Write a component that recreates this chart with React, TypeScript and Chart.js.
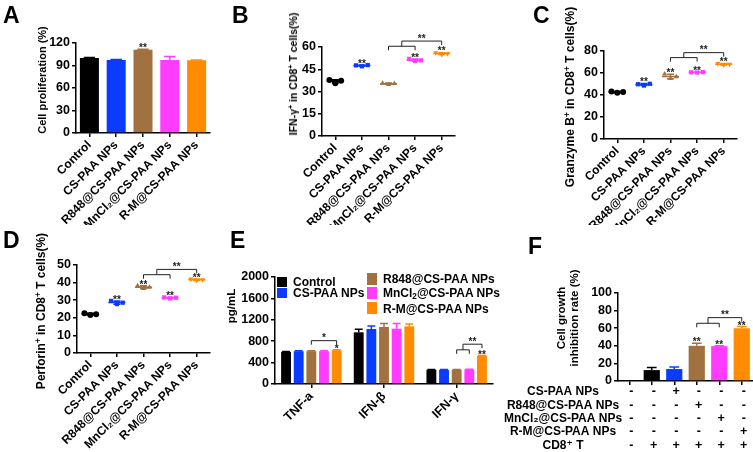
import React, { useEffect, useRef } from 'react';
import { Chart, registerables } from 'chart.js';

Chart.register(...registerables);

const FONT = '"Liberation Sans", Arial, "DejaVu Sans", sans-serif';
Chart.defaults.font.family = FONT;
Chart.defaults.font.weight = 'bold';
Chart.defaults.color = '#000';

// ---------------- shared ----------------
const groups = ['Control', 'CS-PAA NPs', 'R848@CS-PAA NPs', 'MnCl₂@CS-PAA NPs', 'R-M@CS-PAA NPs'];
const groupColors = ['#000000', '#0b3bff', '#a1713f', '#ff3cff', '#ff8c00'];
const pointShapes = ['circle', 'rect', 'triangle', 'rect', 'triangle'];
const pointRotations = [0, 0, 0, 0, 180];
const jitter = [-0.22, 0, 0.22];

// ---------------- A: cell proliferation ----------------
const prolifMean = [100, 97.5, 111, 97.5, 97];
const prolifSD = [0.8, 0.5, 0.8, 4.5, 0.5];
const prolifStars = ['', '', '**', '', ''];

// ---------------- B: IFN-γ+ ----------------
const ifngReps = [
  [37.8, 35.6, 37.2],
  [47.6, 47.0, 47.8],
  [35.6, 34.8, 35.4],
  [52.0, 50.6, 51.0],
  [56.2, 55.0, 55.6],
];
const ifngStars = ['', '**', '', '**', '**'];
const ifngBrackets = [
  { from: 2, to: 3, y: 60.5, label: '' },
  { from: 2.5, to: 4, y: 64, label: '**', base: 60.5 },
];

// ---------------- C: Granzyme B+ ----------------
const gzmbReps = [
  [43.2, 42.0, 42.8],
  [49.8, 48.6, 50.2],
  [59.0, 55.0, 56.6],
  [60.6, 60.4, 60.8],
  [68.6, 67.2, 68.0],
];
const gzmbStars = ['', '**', '**', '**', '**'];
const gzmbBrackets = [
  { from: 2, to: 3, y: 74, label: '' },
  { from: 2.5, to: 4, y: 78.5, label: '**', base: 74 },
];

// ---------------- D: Perforin+ ----------------
const prfReps = [
  [22.6, 21.6, 22.0],
  [29.6, 27.8, 28.6],
  [38.2, 36.6, 37.4],
  [31.6, 31.0, 31.4],
  [42.0, 41.2, 41.6],
];
const prfStars = ['', '**', '**', '**', '**'];
const prfBrackets = [
  { from: 2, to: 3, y: 44.5, label: '' },
  { from: 2.5, to: 4, y: 47.5, label: '**', base: 44.5 },
];

// ---------------- E: cytokines ----------------
const cytokines = ['TNF-a', 'IFN-β', 'IFN-γ'];
const tnfMean = [600, 613, 613, 613, 632];
const tnfSD = [8, 8, 8, 8, 10];
const ifnbMean = [966, 1028, 1065, 1034, 1077];
const ifnbSD = [56, 56, 68, 99, 43];
const ifngMean = [266, 266, 266, 272, 526];
const ifngSD = [6, 6, 4, 4, 8];
const cytoStars = [
  ['', '', ''],
  ['', '', ''],
  ['', '', ''],
  ['', '', ''],
  ['*', '', '**'],
];
const cytoBrackets = [
  { group: 0, from: 2, to: 4, y: 810, label: '*' },
  { group: 2, from: 2, to: 3, y: 639, label: '' },
  { group: 2, from: 2.5, to: 4, y: 744, label: '**', base: 639 },
];

// ---------------- F: growth inhibition ----------------
const fConditions = ['blank', 'CD8⁺ T', 'CS-PAA NPs + CD8⁺ T', 'R848@CS-PAA NPs + CD8⁺ T', 'MnCl₂@CS-PAA NPs + CD8⁺ T', 'R-M@CS-PAA NPs + CD8⁺ T'];
const fMean = [0, 12.4, 13.6, 40, 39.6, 60];
const fSD = [0, 3, 2.4, 3, 0.5, 2];
const fColors = ['#000000', ...groupColors];
const fStars = ['', '', '', '**', '**', '**'];
const fBrackets = [
  { from: 3, to: 4, y: 65.6, label: '' },
  { from: 3.5, to: 5, y: 72, label: '**', base: 65.6 },
];
const fRows = ['CS-PAA NPs', 'R848@CS-PAA NPs', 'MnCl₂@CS-PAA NPs', 'R-M@CS-PAA NPs', 'CD8⁺ T'];
const fTable = [
  ['-', '-', '+', '-', '-', '-'],
  ['-', '-', '-', '+', '-', '-'],
  ['-', '-', '-', '-', '+', '-'],
  ['-', '-', '-', '-', '-', '+'],
  ['-', '+', '+', '+', '+', '+'],
];

// ---------------- helpers ----------------
const tickFont = { family: FONT, size: 12.5, weight: 'bold' as const };
const catFont = { family: FONT, size: 12, weight: 'bold' as const };

const gridOpts = {
  display: true,
  drawOnChartArea: false,
  drawTicks: true,
  tickLength: 4,
  color: '#000',
  tickColor: '#000',
  lineWidth: 1.5,
  tickWidth: 1.5,
  offset: false,
};
const borderOpts = { display: true, color: '#000', width: 1.5 };

function yScale(max: number, step: number, width: number) {
  return {
    min: 0,
    max,
    ticks: { stepSize: step, autoSkip: false, font: tickFont, color: '#000', padding: 2, callback: (v: any) => String(v) },
    grid: gridOpts,
    border: borderOpts,
    afterFit: (s: any) => {
      s.width = width;
    },
  };
}

function xCategory(height: number, font: any, showLabels = true) {
  return {
    type: 'category',
    ticks: { display: showLabels, font, color: '#000', minRotation: 45, maxRotation: 45, autoSkip: false, padding: 1 },
    grid: gridOpts,
    border: borderOpts,
    afterFit: (s: any) => {
      s.height = height;
    },
  };
}

function xLinear(height: number) {
  return {
    type: 'linear',
    min: -0.5,
    max: 4.5,
    afterBuildTicks: (s: any) => {
      s.ticks = groups.map((_, i) => ({ value: i }));
    },
    ticks: {
      font: catFont,
      color: '#000',
      minRotation: 45,
      maxRotation: 45,
      autoSkip: false,
      padding: 1,
      callback: (v: any) => groups[v] ?? '',
    },
    grid: gridOpts,
    border: borderOpts,
    afterFit: (s: any) => {
      s.height = height;
    },
  };
}

const avg = (a: number[]) => a.reduce((s, v) => s + v, 0) / a.length;
const sdev = (a: number[]) => {
  const m = avg(a);
  return Math.sqrt(a.reduce((s, v) => s + (v - m) * (v - m), 0) / (a.length - 1));
};

function drawStar(ctx: CanvasRenderingContext2D, x: number, cy: number, text: string, size = 10) {
  ctx.save();
  ctx.font = `bold ${size}px ${FONT}`;
  ctx.fillStyle = '#222';
  ctx.textAlign = 'center';
  ctx.textBaseline = 'alphabetic';
  ctx.fillText(text, x, cy + size * 0.575);
  ctx.restore();
}

function drawBracket(ctx: CanvasRenderingContext2D, x1: number, x2: number, y: number, leftEnd: number, rightEnd: number, label: string) {
  ctx.save();
  ctx.strokeStyle = '#222';
  ctx.lineWidth = 1;
  ctx.beginPath();
  ctx.moveTo(x1, leftEnd);
  ctx.lineTo(x1, y);
  ctx.lineTo(x2, y);
  ctx.lineTo(x2, rightEnd);
  ctx.stroke();
  ctx.restore();
  if (label) drawStar(ctx, (x1 + x2) / 2, y - 5, label);
}

type Bracket = { from: number; to: number; y: number; label: string; base?: number; group?: number };

function bracketsDraw(chart: any, brackets: Bracket[], xAt: (b: Bracket, v: number) => number) {
  const ys = chart.scales.y;
  brackets.forEach((b) => {
    const y = ys.getPixelForValue(b.y);
    const left = b.base !== undefined ? ys.getPixelForValue(b.base) : y + 4;
    drawBracket(chart.ctx, xAt(b, b.from), xAt(b, b.to), y, left, y + 4, b.label);
  });
}

function scatterExtras(reps: number[][], stars: string[], brackets: Bracket[]) {
  return {
    id: 'scatterExtras',
    afterDatasetsDraw(chart: any) {
      const { ctx } = chart;
      const xs = chart.scales.x;
      const ys = chart.scales.y;
      reps.forEach((r, i) => {
        const m = avg(r);
        const s = sdev(r);
        const cx = xs.getPixelForValue(i);
        const hw = xs.getPixelForValue(i + 0.32) - cx;
        const cw = xs.getPixelForValue(i + 0.13) - cx;
        const ym = ys.getPixelForValue(m);
        const yt = ys.getPixelForValue(m + s);
        const yb = ys.getPixelForValue(m - s);
        ctx.save();
        ctx.strokeStyle = groupColors[i];
        ctx.lineWidth = 1.5;
        ctx.beginPath();
        ctx.moveTo(cx - hw, ym);
        ctx.lineTo(cx + hw, ym);
        ctx.moveTo(cx, yt);
        ctx.lineTo(cx, yb);
        ctx.moveTo(cx - cw, yt);
        ctx.lineTo(cx + cw, yt);
        ctx.moveTo(cx - cw, yb);
        ctx.lineTo(cx + cw, yb);
        ctx.stroke();
        ctx.restore();
        if (stars[i]) {
          const top = Math.min(yt, ys.getPixelForValue(Math.max(...r)));
          drawStar(ctx, cx, top - 4, stars[i]);
        }
      });
      bracketsDraw(chart, brackets, (_b, v) => xs.getPixelForValue(v));
    },
  };
}

function barExtras(
  mean: (d: number, j: number) => number,
  sd: (d: number, j: number) => number,
  stars: (d: number, j: number) => string,
  brackets: Bracket[],
  capRatio: number,
) {
  return {
    id: 'barExtras',
    afterDatasetsDraw(chart: any) {
      const { ctx } = chart;
      const ys = chart.scales.y;
      chart.data.datasets.forEach((_ds: any, d: number) => {
        const meta = chart.getDatasetMeta(d);
        meta.data.forEach((el: any, j: number) => {
          const s = sd(d, j);
          const top = ys.getPixelForValue(mean(d, j) + s);
          if (s) {
            const half = (el.width * capRatio) / 2;
            ctx.save();
            ctx.strokeStyle = el.options.backgroundColor;
            ctx.lineWidth = 1.5;
            ctx.beginPath();
            ctx.moveTo(el.x, el.y);
            ctx.lineTo(el.x, top);
            ctx.moveTo(el.x - half, top);
            ctx.lineTo(el.x + half, top);
            ctx.stroke();
            ctx.restore();
          }
          const st = stars(d, j);
          if (st) drawStar(ctx, el.x, top - 3.5, st);
        });
      });
      bracketsDraw(chart, brackets, (b, v) => {
        const at = (k: number) =>
          b.group === undefined ? chart.getDatasetMeta(0).data[k].x : chart.getDatasetMeta(k).data[b.group].x;
        const lo = Math.floor(v);
        const hi = Math.ceil(v);
        return at(lo) + (at(hi) - at(lo)) * (v - lo);
      });
    },
  };
}

const tablePlugin = {
  id: 'fTable',
  afterDraw(chart: any) {
    const { ctx } = chart;
    const xs = chart.scales.x;
    const bottom = chart.chartArea.bottom;
    ctx.save();
    ctx.fillStyle = '#000';
    ctx.textBaseline = 'middle';
    fRows.forEach((row, r) => {
      const y = bottom + 11 + r * 13.3;
      ctx.font = `bold 12px ${FONT}`;
      ctx.textAlign = 'center';
      ctx.fillText(row, 63, y);
      ctx.font = `bold 12.5px ${FONT}`;
      fTable[r].forEach((sym, c) => {
        ctx.fillText(sym, xs.getPixelForValue(c) + 2, y);
      });
    });
    ctx.restore();
  },
};

const baseOptions = (padding: any) => ({
  responsive: false,
  animation: false,
  layout: { padding },
  plugins: { legend: { display: false }, tooltip: { enabled: false } },
});

function scatterConfig(reps: number[][], stars: string[], brackets: Bracket[], max: number, step: number, yWidth: number, xHeight: number, padding: any) {
  return {
    type: 'scatter',
    data: {
      datasets: reps.map((r, i) => ({
        label: groups[i],
        data: r.map((v, j) => ({ x: i + jitter[j], y: v })),
        pointStyle: pointShapes[i],
        pointRotation: pointRotations[i],
        pointRadius: 3,
        pointBackgroundColor: groupColors[i],
        pointBorderColor: groupColors[i],
        pointBorderWidth: 0,
      })),
    },
    options: {
      ...baseOptions(padding),
      scales: { x: xLinear(xHeight), y: yScale(max, step, yWidth) },
    },
    plugins: [scatterExtras(reps, stars, brackets)],
  };
}

const makeA = () => ({
  type: 'bar',
  data: {
    labels: groups,
    datasets: [{ data: prolifMean, backgroundColor: groupColors, borderWidth: 0, categoryPercentage: 1, barPercentage: 0.71 }],
  },
  options: {
    ...baseOptions({ left: 0, top: 43, right: 40, bottom: 0 }),
    scales: { x: xCategory(92, catFont), y: yScale(120, 30, 76) },
  },
  plugins: [barExtras((_d, j) => prolifMean[j], (_d, j) => prolifSD[j], (_d, j) => prolifStars[j], [], 0.6)],
});

const makeB = () => scatterConfig(ifngReps, ifngStars, ifngBrackets, 60, 15, 72, 89, { left: 0, top: 47, right: 45, bottom: 0 });
const makeC = () => scatterConfig(gzmbReps, gzmbStars, gzmbBrackets, 80, 20, 104, 86, { left: 0, top: 51, right: 16, bottom: 0 });
const makeD = () => scatterConfig(prfReps, prfStars, prfBrackets, 50, 10, 77, 99, { left: 0, top: 40, right: 40, bottom: 0 });

const cytoMeans = [tnfMean, ifnbMean, ifngMean];
const cytoSDs = [tnfSD, ifnbSD, ifngSD];

const makeE = () => ({
  type: 'bar',
  data: {
    labels: cytokines,
    datasets: groups.map((g, i) => ({
      label: g,
      data: cytoMeans.map((arr) => arr[i]),
      backgroundColor: groupColors[i],
      borderWidth: 0,
      categoryPercentage: 0.87,
      barPercentage: 0.78,
    })),
  },
  options: {
    ...baseOptions({ left: 0, top: 52, right: 7, bottom: 0 }),
    scales: { x: xCategory(68, { family: FONT, size: 12.5, weight: 'bold' }), y: yScale(2000, 400, 55) },
  },
  plugins: [barExtras((d, j) => cytoMeans[j][d], (d, j) => cytoSDs[j][d], (d, j) => cytoStars[d][j], cytoBrackets, 0.8)],
});

const makeF = () => ({
  type: 'bar',
  data: {
    labels: fConditions,
    datasets: [{ data: fMean, backgroundColor: fColors, borderWidth: 0, categoryPercentage: 1, barPercentage: 0.72 }],
  },
  options: {
    ...baseOptions({ left: 0, top: 68, right: 0, bottom: 0 }),
    scales: { x: xCategory(71, catFont, false), y: yScale(100, 20, 118) },
  },
  plugins: [barExtras((_d, j) => fMean[j], (_d, j) => fSD[j], (_d, j) => fStars[j], fBrackets, 0.6), tablePlugin],
});

// ---------------- components ----------------
function Panel({ make, left, top, width, height }: { make: () => any; left: number; top: number; width: number; height: number }) {
  const ref = useRef<HTMLCanvasElement>(null);
  useEffect(() => {
    const chart = new Chart(ref.current as HTMLCanvasElement, make());
    return () => chart.destroy();
  }, []);
  return <canvas ref={ref} width={width} height={height} style={{ position: 'absolute', left, top, width, height }} />;
}

function rich(text: string) {
  const parts: any[] = [];
  let buf = '';
  let k = 0;
  for (const ch of text) {
    if (ch === '⁺' || ch === '₂') {
      if (buf) parts.push(buf);
      buf = '';
      parts.push(
        ch === '⁺' ? (
          <sup key={k++} style={{ fontSize: '0.68em', lineHeight: 0, verticalAlign: '0.5em' }}>+</sup>
        ) : (
          <sub key={k++} style={{ fontSize: '0.68em', lineHeight: 0, verticalAlign: '-0.25em' }}>2</sub>
        ),
      );
    } else buf += ch;
  }
  if (buf) parts.push(buf);
  return parts;
}

function Letter({ x, y, children }: { x: number; y: number; children: string }) {
  return (
    <div style={{ position: 'absolute', left: x, top: y, font: `bold 23px ${FONT}`, lineHeight: 1 }}>{children}</div>
  );
}

function VTitle({ cx, cy, size, lines }: { cx: number; cy: number; size: number; lines: string[] }) {
  return (
    <div
      style={{
        position: 'absolute',
        left: cx,
        top: cy,
        transform: 'translate(-50%, -50%) rotate(-90deg)',
        whiteSpace: 'nowrap',
        font: `bold ${size}px ${FONT}`,
        lineHeight: `${size + 1.5}px`,
        textAlign: 'center',
      }}
    >
      {lines.map((l, i) => (
        <div key={i}>{rich(l)}</div>
      ))}
    </div>
  );
}

const legendItems = [
  { i: 0, sx: 277, sy: 277, sh: 10, tx: 293, ty: 282 },
  { i: 1, sx: 277, sy: 288, sh: 10, tx: 293, ty: 293 },
  { i: 2, sx: 367, sy: 273, sh: 12, tx: 383, ty: 279 },
  { i: 3, sx: 367, sy: 287, sh: 12, tx: 383, ty: 293 },
  { i: 4, sx: 367, sy: 302, sh: 12, tx: 383, ty: 309 },
];

export default function App() {
  return (
    <div
      style={{
        position: 'fixed',
        left: 0,
        top: 0,
        width: 753,
        height: 452,
        background: '#fff',
        overflow: 'hidden',
        fontFamily: FONT,
        color: '#000',
      }}
    >
      <Panel make={makeA} left={0} top={0} width={250} height={225} />
      <Panel make={makeB} left={250} top={0} width={250} height={225} />
      <Panel make={makeC} left={500} top={0} width={253} height={225} />
      <Panel make={makeD} left={0} top={225} width={250} height={227} />
      <Panel make={makeE} left={220} top={225} width={280} height={227} />
      <Panel make={makeF} left={500} top={225} width={253} height={227} />

      <Letter x={3} y={4}>A</Letter>
      <Letter x={232} y={4}>B</Letter>
      <Letter x={533} y={4}>C</Letter>
      <Letter x={3} y={229}>D</Letter>
      <Letter x={230} y={229}>E</Letter>
      <Letter x={528} y={235}>F</Letter>

      <VTitle cx={42} cy={80} size={11} lines={['Cell proliferation (%)']} />
      <VTitle cx={292.5} cy={74} size={10.5} lines={['IFN-γ⁺ in CD8⁺ T cells(%)']} />
      <VTitle cx={571} cy={97} size={12} lines={['Granzyme B⁺ in CD8⁺ T cells(%)']} />
      <VTitle cx={42} cy={311} size={12} lines={['Perforin⁺ in CD8⁺ T cells(%)']} />
      <VTitle cx={231} cy={306} size={11.5} lines={['pg/mL']} />
      <VTitle cx={568} cy={318} size={11.5} lines={['Cell growth', 'inhibition rate (%)']} />

      {legendItems.map((it) => (
        <React.Fragment key={it.i}>
          <div
            style={{ position: 'absolute', left: it.sx, top: it.sy, width: 10, height: it.sh, background: groupColors[it.i] }}
          />
          <div
            style={{
              position: 'absolute',
              left: it.tx,
              top: it.ty,
              transform: 'translateY(-50%)',
              font: `bold 12px ${FONT}`,
              lineHeight: 1,
              whiteSpace: 'nowrap',
            }}
          >
            {rich(groups[it.i])}
          </div>
        </React.Fragment>
      ))}
    </div>
  );
}
